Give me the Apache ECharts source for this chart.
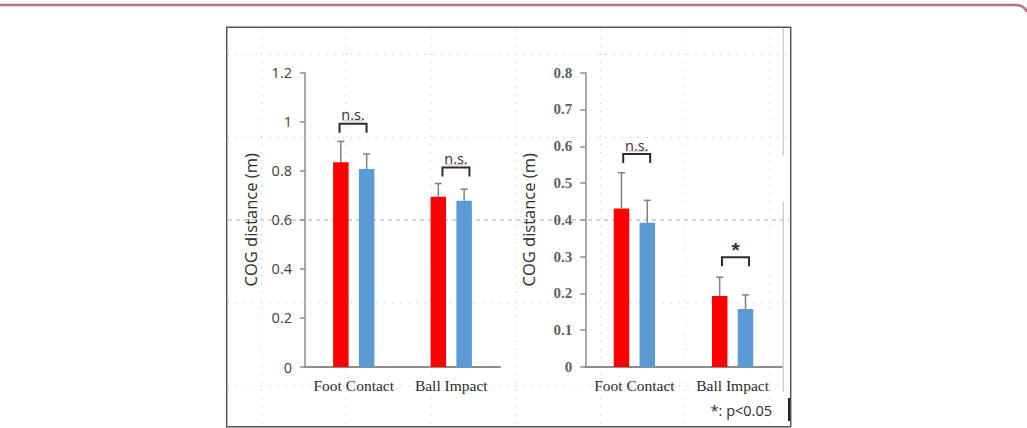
<!DOCTYPE html>
<html>
<head>
<meta charset="utf-8">
<script src="https://cdn.jsdelivr.net/npm/echarts@6/dist/echarts.min.js"></script>
<style>
  html, body { margin: 0; padding: 0; background: #fff; }
  #chart { width: 1027px; height: 428px; }
</style>
</head>
<body>
<div id="chart"></div>
<script>
// values
const categories = ['Foot Contact', 'Ball Impact'];

const leftRed = [0.835, 0.694];
const leftRedErr = [0.085, 0.054];
const leftBlue = [0.807, 0.678];
const leftBlueErr = [0.062, 0.047];

const rightRed = [0.431, 0.193];
const rightRedErr = [0.097, 0.051];
const rightBlue = [0.392, 0.158];
const rightBlueErr = [0.061, 0.038];

const leftAxisMax = 1.2, leftAxisStep = 0.2;
const rightAxisMax = 0.8, rightAxisStep = 0.1;

// significance brackets: top of the bracket in axis units
const leftBracketTop = [0.992, 0.813];
const rightBracketTop = [0.579, 0.298];
const leftBracketLabels = ['n.s.', 'n.s.'];
const rightBracketLabels = ['n.s.', '*'];

const yTitle = 'COG distance (m)';
const footNote = '*: p<0.05';

// styling constants
const RED = '#ff0000', BLUE = '#5b9bd5';
const BAR_W = 15.5, BAR_GAP = 10.3;
const AXIS_GRAY = '#8c8c8c';
const leftBracketShift = [-0.7, 4.7];
const rightBracketShift = [2.3, 2.9];

const chart = echarts.init(document.getElementById('chart'), null, { renderer: 'svg' });

// error bar: only the upper whisker, with a cap
function errorSeries(grid, means, errs, side) {
    return {
        type: 'custom',
        xAxisIndex: grid, yAxisIndex: grid,
        z: 5,
        silent: true,
        data: means.map((m, i) => [i, m, errs[i]]),
        renderItem(params, api) {
            const base = api.coord([api.value(0), api.value(1)]);
            const top = api.coord([api.value(0), api.value(1) + api.value(2)]);
            const x = base[0] + side * (BAR_W + BAR_GAP) / 2;
            const st = { stroke: '#7f7f7f', lineWidth: 1.5 };
            return {
                type: 'group',
                children: [
                    { type: 'line', shape: { x1: x, y1: base[1], x2: x, y2: top[1] }, style: st },
                    { type: 'line', shape: { x1: x - 3.5, y1: top[1], x2: x + 3.5, y2: top[1] }, style: st }
                ]
            };
        }
    };
}

function bracketSeries(grid, tops, labels, shifts) {
    return {
        type: 'custom',
        xAxisIndex: grid, yAxisIndex: grid,
        z: 6,
        silent: true,
        data: tops.map((t, i) => [i, t]),
        renderItem(params, api) {
            const p = api.coord([api.value(0), api.value(1)]);
            const cx = p[0] + shifts[params.dataIndex];
            const yt = p[1];
            const label = labels[params.dataIndex];
            const star = label === '*';
            const kids = [
                {
                    type: 'polyline',
                    shape: { points: [[cx - 13.5, yt + 9], [cx - 13.5, yt], [cx + 13.5, yt], [cx + 13.5, yt + 9]] },
                    style: { fill: null, stroke: '#2b2b2b', lineWidth: 2 }
                },
                {
                    type: 'text',
                    x: cx, y: star ? yt - 8 : yt - 9,
                    style: {
                        text: label,
                        font: star ? 'bold 21px "Liberation Sans"' : '14.5px "Open Sans"',
                        fill: '#333',
                        align: 'center', verticalAlign: 'middle'
                    }
                }
            ];
            if (!star) {
                // spell-check squiggle under n.s.
                const pts = [];
                for (let k = 0; k <= 11; k++) pts.push([cx - 11 + k * 2, yt - 3 + (k % 2 ? -0.8 : 0.8)]);
                kids.push({ type: 'polyline', shape: { points: pts }, style: { fill: null, stroke: '#e07070', lineWidth: 0.8, opacity: 0.8 } });
            }
            return { type: 'group', children: kids };
        }
    };
}

function barSeries(grid, data, color) {
    return {
        type: 'bar',
        xAxisIndex: grid, yAxisIndex: grid,
        data: data,
        barWidth: BAR_W,
        barGap: (BAR_GAP / BAR_W * 100) + '%',
        itemStyle: { color: color },
        silent: true
    };
}

function xAxis(grid) {
    return {
        type: 'category', gridIndex: grid, data: categories,
        axisLine: { lineStyle: { color: AXIS_GRAY, width: 2 } },
        axisTick: { show: false },
        axisLabel: { interval: 0, color: '#2b2b2b', fontFamily: 'Liberation Serif', fontSize: 15.5, margin: 10 }
    };
}

function yAxis(grid, max, step, labelFont, gap) {
    return {
        type: 'value', gridIndex: grid, min: 0, max: max, interval: step,
        name: yTitle, nameLocation: 'middle', nameGap: gap,
        nameTextStyle: { color: '#2b2b2b', fontFamily: 'Open Sans', fontSize: 16.5 },
        splitLine: { show: false },
        axisLine: { show: true, lineStyle: { color: AXIS_GRAY, width: 1.5 } },
        axisTick: { show: true, length: 5, lineStyle: { color: AXIS_GRAY, width: 1.5 } },
        axisLabel: Object.assign({ margin: 13 }, labelFont)
    };
}

// faint dotted spreadsheet cells behind the charts
const cellGrid = [];
[261.5, 346.5, 431, 515.5, 600.5, 685, 770].forEach(x => cellGrid.push({
    type: 'line', z: -10, silent: true,
    shape: { x1: x, y1: 29, x2: x, y2: 425 },
    style: { stroke: '#c4c4c4', lineWidth: 1, lineDash: [1.2, 7] }
}));
[54.5, 137.5, 303, 386].forEach(y => cellGrid.push({
    type: 'line', z: -10, silent: true,
    shape: { x1: 228, y1: y, x2: 789, y2: y },
    style: { stroke: '#c4c4c4', lineWidth: 1, lineDash: [1.2, 7] }
}));
cellGrid.push({
    type: 'line', z: -10, silent: true,
    shape: { x1: 228, y1: 220, x2: 789, y2: 220 },
    style: { stroke: '#a8a8a8', lineWidth: 1, lineDash: [4, 4] }
});

const option = {
    backgroundColor: '#fff',
    animation: false,
    grid: [
        { left: 305, top: 72.7, width: 195, height: 294.3 },
        { left: 585.3, top: 72.7, width: 196.4, height: 294.3 }
    ],
    xAxis: [xAxis(0), xAxis(1)],
    yAxis: [
        yAxis(0, leftAxisMax, leftAxisStep, { color: '#404040', fontFamily: 'Open Sans', fontSize: 14.5 }, 46),
        yAxis(1, rightAxisMax, rightAxisStep, { color: '#5f5f5f', fontFamily: 'Liberation Serif', fontSize: 15, fontWeight: 'bold' }, 48)
    ],
    series: [
        barSeries(0, leftRed, RED),
        barSeries(0, leftBlue, BLUE),
        barSeries(1, rightRed, RED),
        barSeries(1, rightBlue, BLUE),
        errorSeries(0, leftRed, leftRedErr, -1),
        errorSeries(0, leftBlue, leftBlueErr, 1),
        errorSeries(1, rightRed, rightRedErr, -1),
        errorSeries(1, rightBlue, rightBlueErr, 1),
        bracketSeries(0, leftBracketTop, leftBracketLabels, leftBracketShift),
        bracketSeries(1, rightBracketTop, rightBracketLabels, rightBracketShift)
    ],
    graphic: cellGrid.concat([
        // page border line at the top, curling down at the right end
        {
            type: 'line', silent: true,
            shape: { x1: 0, y1: 5, x2: 1016, y2: 5 },
            style: { stroke: '#b9718c', lineWidth: 2.5 }
        },
        {
            type: 'bezierCurve', silent: true,
            shape: { x1: 1016, y1: 5, cpx1: 1024, cpy1: 5, x2: 1027, y2: 12 },
            style: { fill: null, stroke: '#b9718c', lineWidth: 2.5 }
        },
        // frame around the figure
        {
            type: 'rect', silent: true,
            shape: { x: 226.7, y: 27.3, width: 564, height: 399.4 },
            style: { fill: null, stroke: '#555', lineWidth: 1.5 }
        },
        { type: 'line', silent: true, shape: { x1: 783.3, y1: 28, x2: 783.3, y2: 155 }, style: { stroke: '#cfcfcf', lineWidth: 1.5 } },
        { type: 'line', silent: true, shape: { x1: 783.3, y1: 202, x2: 783.3, y2: 392 }, style: { stroke: '#cfcfcf', lineWidth: 1.5 } },
        { type: 'line', silent: true, shape: { x1: 789, y1: 398, x2: 789, y2: 421 }, style: { stroke: '#222', lineWidth: 2 } },
        {
            type: 'text', silent: true, x: 772, y: 410,
            style: { text: footNote, font: '14.5px "Open Sans"', fill: '#2b2b2b', align: 'right', verticalAlign: 'middle' }
        }
    ])
};

chart.setOption(option);
</script>
</body>
</html>
